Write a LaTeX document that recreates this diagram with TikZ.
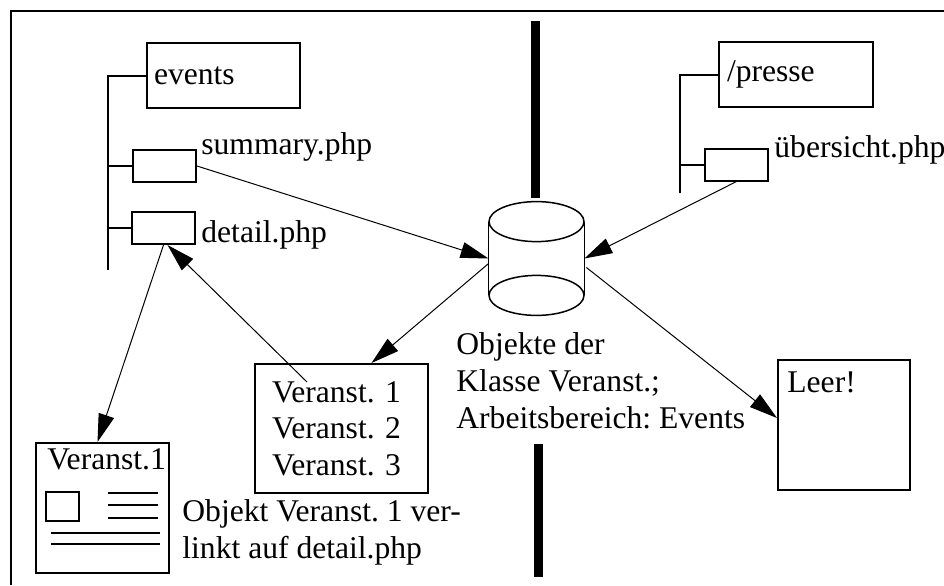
\documentclass[tikz,border=0pt]{standalone}
\usepackage{fontspec}
\setmainfont{Liberation Serif}
\usetikzlibrary{arrows.meta, calc}

\tikzset{
  box/.style={draw, line width=1pt, inner sep=0pt},
  filebox/.style={box, minimum width=31.5pt, minimum height=16pt},
  txt/.style={anchor=base west, inner sep=0pt, align=left},
  link/.style={-{Triangle[length=14pt,width=8pt]}, line width=0.5pt},
  bar/.style={line width=4.5pt},
  tree/.style={line width=1pt},
}

\begin{document}
\frenchspacing
\begin{tikzpicture}[x=0.5pt, y=-0.5pt, font=\fontsize{15.8}{18.3}\selectfont\frenchspacing]

\useasboundingbox (0,0) rectangle (944,585);
\clip (0,0) rectangle (944,585);

% Frame
\draw[line width=1pt] (11,585) -- (11,11) -- (944,11);

% Barrier
\draw[bar] (535,21) -- (535,198);
\draw[bar] (538,444) -- (538,577);

% Left tree: events
\node[box, inner xsep=3.5pt, text width=69.5pt, minimum height=32.5pt, align=left] (events) at (223.5,75.5) {events};
\node[filebox] (summary) at (164.5,166) {};
\node[filebox] (detail) at (163.5,228) {};
\coordinate (ltop) at (108,75.5);
\coordinate (lbot) at (108,270);
\draw[tree] (lbot) -- (ltop) -- (events.west);
\draw[tree] (summary.west -| ltop) -- (summary.west);
\draw[tree] (detail.west -| ltop) -- (detail.west);
\node[txt] (summarytxt) at (201,154) {summary.php};
\node[txt] (detailtxt) at (201,242) {detail.php};

% Right tree: presse
\node[box, inner xsep=4pt, text width=69pt, minimum height=32.5pt, align=left] (presse) at (796,74.5) {/presse};
\node[filebox] (ueb) at (736.5,164.5) {};
\coordinate (rtop) at (680,74.5);
\coordinate (rbot) at (680,193);
\draw[tree] (rbot) -- (rtop) -- (presse.west);
\draw[tree] (ueb.west -| rtop) -- (ueb.west);
\node[txt] (uebtxt) at (774,157) {übersicht.php};

% Database
\node[minimum width=47.5pt, minimum height=36.5pt, inner sep=0pt] (db) at (536.5,258.5) {};
\draw[line width=0.75pt] (db.north west) -- (db.south west) (db.north east) -- (db.south east);
\draw[line width=0.75pt] (db.north) ellipse [x radius=23.75pt, y radius=10pt];
\draw[line width=0.75pt] (db.south) ellipse [x radius=23.75pt, y radius=10pt];
\node[txt] (dbtxt) at (456,428) {Objekte der\\Klasse Veranst.;\\Arbeitsbereich: Events};

% Object list
\node[box, inner xsep=8.5pt, text width=69.5pt, minimum height=64.5pt, align=left] (list) at (341.5,428.5) {Veranst. 1\\Veranst. 2\\Veranst. 3};
\coordinate (v1) at ($(list.north west)+(53,19)$);

% Detail page
\node[box, minimum width=66.5pt, minimum height=65pt] (doc) at (102.5,508) {};
\node[txt] (doctxt) at (47,469) {Veranst.1};
\draw[line width=0.75pt] (46,492) rectangle (79,521);
\draw[line width=0.75pt] (108,493) -- (158,493) (108,505) -- (158,505) (108,518) -- (158,518);
\draw[line width=0.75pt] (51,533) -- (160,533) (51,544) -- (160,544);
\node[txt] (doccap) at (182,558) {Objekt Veranst. 1 ver-\\linkt auf detail.php};

% Empty overview
\node[box, minimum width=66pt, minimum height=65pt] (leer) at (844,425) {};
\node[txt] (leertxt) at (787,392) {Leer!};

% Links
\draw[link] (summary.east) -- (db.west);
\draw[link] (ueb.south) -- (db.east);
\draw[link] ($(db.west)+(0,5)$) -- ($(list.north)+(30,0)$);
\draw[link] ($(db.east)+(2,9)$) -- ($(leer.west)+(0,-7)$);
\draw[link] (v1) -- ($(detail.south)+(4,0)$);
\draw[link] (detail.south) -- ($(doc.north)+(-5,0)$);

\end{tikzpicture}
\end{document}
